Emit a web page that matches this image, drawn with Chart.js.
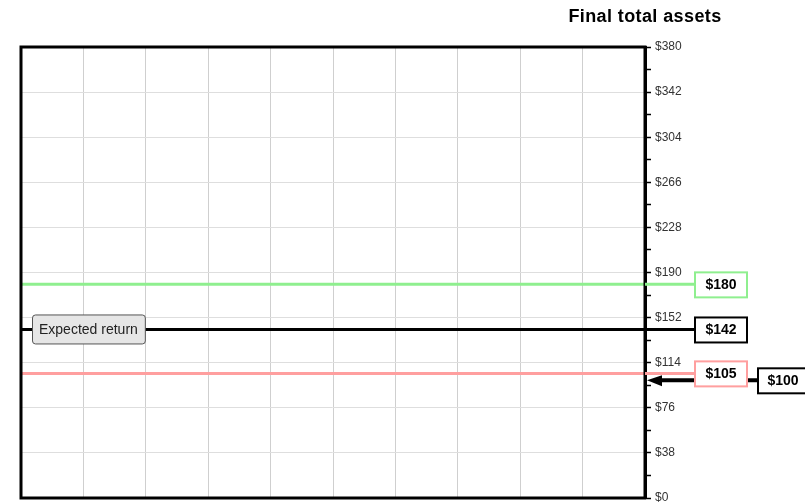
<!DOCTYPE html>
<html>
<head>
<meta charset="utf-8">
<script src="https://cdn.jsdelivr.net/npm/chart.js@4/dist/chart.umd.min.js"></script>
<style>
  html, body { margin: 0; padding: 0; background: #fff; }
  #wrap { width: 805px; height: 504px; }
</style>
</head>
<body>
<div id="wrap"><canvas id="assetsChart" width="805" height="504"></canvas></div>
<script>
// -------------------
// DATA

const chartTitle = "Final total assets";
const outcomeValues = [180, 142, 105];
const outcomeLabels = ["$180", "$142", "$105"];
const outcomeColors = ["#8fef8f", "#000000", "#ff9f9f"];
const startValue = 100;
const startLabel = "$100";
const expectedLabel = "Expected return";
const yMax = 380;
const yStep = 19;   // minor ticks, labels every 38
const xSteps = 10;

// -------------------
// DATASETS

const datasets = outcomeValues.map((v, i) => {
  return {
    label: outcomeLabels[i],
    data: [{ x: 0, y: v }, { x: xSteps, y: v }],
    borderColor: outcomeColors[i],
    borderWidth: 3,
    pointRadius: 0,
    fill: false,
  };
});

const fontFamily = "'Liberation Sans', Arial, sans-serif";

// -------------------
// PLUGINS

const frame = {
  id: "frame",
  afterDatasetsDraw(chart) {
    const { ctx, chartArea: a } = chart;
    ctx.save();
    ctx.strokeStyle = "#000";
    ctx.lineWidth = 3;
    ctx.strokeRect(a.left, a.top, a.right - a.left, a.bottom - a.top);
    ctx.restore();
  },
};

const valueBoxes = {
  id: "valueBoxes",
  afterDraw(chart) {
    const { ctx, chartArea: a } = chart;
    const y = chart.scales.y;
    const boxX = a.right + 50;
    const boxW = 52;
    const boxH = 25;

    ctx.save();
    ctx.font = "bold 14px " + fontFamily;
    ctx.textAlign = "center";
    ctx.textBaseline = "middle";

    // start value arrow (drawn first so the $105 box sits on top)
    const sy = y.getPixelForValue(startValue);
    const sBoxX = boxX + boxW + 11;
    ctx.strokeStyle = "#000";
    ctx.lineWidth = 4;
    ctx.beginPath();
    ctx.moveTo(a.right + 14, sy + 1);
    ctx.lineTo(sBoxX, sy + 1);
    ctx.stroke();
    ctx.fillStyle = "#000";
    ctx.beginPath();
    ctx.moveTo(a.right + 2, sy + 1);
    ctx.lineTo(a.right + 17, sy - 4);
    ctx.lineTo(a.right + 17, sy + 7);
    ctx.closePath();
    ctx.fill();

    ctx.fillStyle = "#fff";
    ctx.fillRect(sBoxX, sy - 11, 50, boxH);
    ctx.lineWidth = 2;
    ctx.strokeRect(sBoxX, sy - 11, 50, boxH);
    ctx.fillStyle = "#000";
    ctx.fillText(startLabel, sBoxX + 25, sy + 2);

    // outcome lines carried out to their boxes
    outcomeValues.forEach((v, i) => {
      const py = y.getPixelForValue(v);
      ctx.strokeStyle = outcomeColors[i];
      ctx.lineWidth = 3;
      ctx.beginPath();
      ctx.moveTo(a.right, py);
      ctx.lineTo(boxX, py);
      ctx.stroke();

      ctx.fillStyle = "#fff";
      ctx.fillRect(boxX, py - 12, boxW, boxH);
      ctx.lineWidth = 2;
      ctx.strokeRect(boxX, py - 12, boxW, boxH);
      ctx.fillStyle = "#000";
      ctx.fillText(outcomeLabels[i], boxX + boxW / 2, py + 1);
    });

    // expected return tag on the black line
    const ey = y.getPixelForValue(outcomeValues[1]);
    const ex = a.left + 11;
    ctx.font = "14px " + fontFamily;
    const ew = ctx.measureText(expectedLabel).width + 14;
    ctx.fillStyle = "#e6e6e6";
    ctx.strokeStyle = "#555";
    ctx.lineWidth = 1;
    ctx.beginPath();
    ctx.roundRect(ex + 0.5, ey - 14.5, ew, 29, 3);
    ctx.fill();
    ctx.stroke();
    ctx.fillStyle = "#222";
    ctx.textAlign = "left";
    ctx.fillText(expectedLabel, ex + 7, ey + 1);

    // title over the value axis
    ctx.font = "bold 18px " + fontFamily;
    ctx.letterSpacing = "0.4px";
    ctx.textAlign = "center";
    ctx.fillStyle = "#000";
    ctx.fillText(chartTitle, a.right, 17);
    ctx.restore();
  },
};

// -------------------
// CHART

const chartHTML = document.getElementById("assetsChart");
const assetsChart = new Chart(chartHTML, {
  type: "line",
  data: { datasets: datasets },
  options: {
    responsive: false,
    animation: false,
    layout: { padding: { top: 47, left: 21, right: 0, bottom: 6 } },
    plugins: {
      legend: { display: false },
      tooltip: { enabled: false },
    },
    scales: {
      x: {
        type: "linear",
        min: 0,
        max: xSteps,
        ticks: { display: false, stepSize: 1 },
        grid: { color: "#cfcfcf", lineWidth: 1, drawTicks: false },
        border: { display: false },
        afterFit(scale) {
          scale.height = 0;
        },
      },
      y: {
        position: "right",
        min: 0,
        max: yMax,
        ticks: {
          stepSize: yStep,
          padding: 4,
          color: "#333",
          font: { family: fontFamily, size: 12 },
          callback: v => (v % (yStep * 2) === 0 ? "$" + v : ""),
        },
        grid: {
          color: ctx => (ctx.tick && ctx.tick.value % (yStep * 2) === 0 ? "#dedede" : "rgba(0,0,0,0)"),
          tickColor: "#000",
          tickLength: 6,
          tickWidth: 1.5,
        },
        border: { display: true, color: "#000", width: 3 },
        afterFit(scale) {
          scale.width = 160;
          scale.paddingTop = 0;
          scale.paddingBottom = 0;
        },
      },
    },
  },
  plugins: [frame, valueBoxes],
});
</script>
</body>
</html>
